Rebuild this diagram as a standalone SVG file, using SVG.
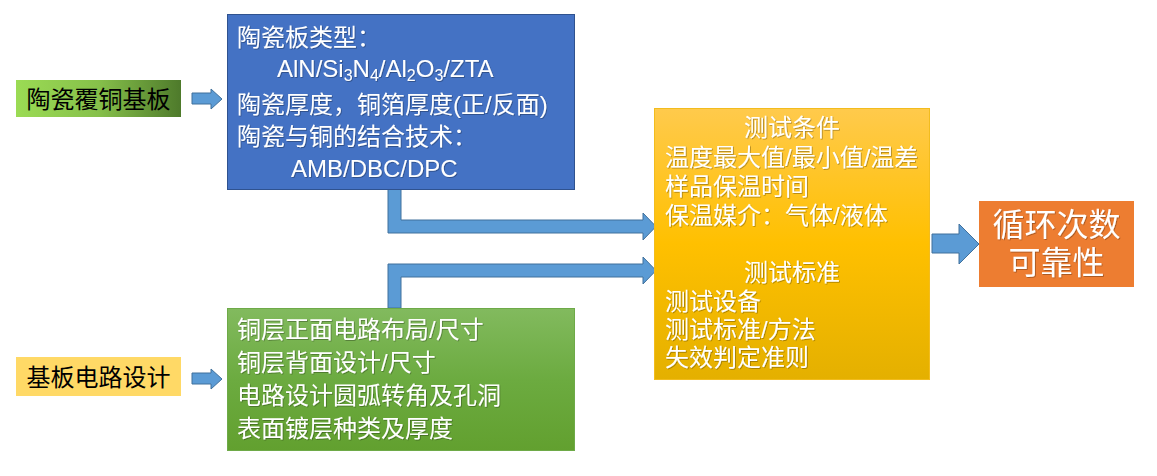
<svg xmlns="http://www.w3.org/2000/svg" width="1157" height="476" viewBox="0 0 1157 476">
<style>
text{font-family:"Liberation Sans","Noto Sans CJK SC",sans-serif;font-size:24px}
.w{fill:#ffffff;filter:url(#sh)}
.k{fill:#000000}
.arr{fill:#5B9BD5;stroke:#41719C;stroke-width:1}
</style>
<defs>
<linearGradient id="gL" x1="0" y1="0" x2="1" y2="0">
<stop offset="0" stop-color="#9BDB54"/><stop offset="0.5" stop-color="#86C04A"/><stop offset="1" stop-color="#4E7A2B"/>
</linearGradient>
<linearGradient id="gG" x1="0" y1="0" x2="0" y2="1">
<stop offset="0" stop-color="#82BA5E"/><stop offset="0.5" stop-color="#6CAB40"/><stop offset="1" stop-color="#62A02F"/>
</linearGradient>
<linearGradient id="gY" x1="0" y1="0" x2="0" y2="1">
<stop offset="0" stop-color="#FFCA4C"/><stop offset="0.5" stop-color="#FFC000"/><stop offset="1" stop-color="#E4B000"/>
</linearGradient>
<filter id="sh" x="-5%" y="-20%" width="110%" height="140%">
<feDropShadow dx="0.8" dy="0.8" stdDeviation="0.5" flood-color="#000" flood-opacity="0.35"/>
</filter>
</defs>
<g id="connectors">
<path class="arr" d="M192,93 L211,93 L211,89 L222,99 L211,109 L211,104 L192,104 Z"/>
<path class="arr" d="M192,373 L211,373 L211,369 L222,379 L211,389 L211,384 L192,384 Z"/>
<path class="arr" d="M388,189 L401,189 L401,220 L643,220 L643,213 L656,226.5 L643,240 L643,233 L388,233 Z"/>
<path class="arr" d="M388,308 L388,264 L643,264 L643,257 L656,270.5 L643,284 L643,277 L401,277 L401,308 Z"/>
<path class="arr" d="M932,234 L959,234 L959,224 L979,244 L959,264 L959,253 L932,253 Z"/>
</g>
<g id="label-ceramic">
<rect x="16" y="80" width="165" height="37" fill="url(#gL)"/>
<text class="k" x="98.5" y="108" text-anchor="middle">陶瓷覆铜基板</text>
</g>
<g id="label-circuit">
<rect x="16" y="357" width="165" height="39" fill="#FFD966"/>
<text class="k" x="98.5" y="386" text-anchor="middle">基板电路设计</text>
</g>
<g id="box-ceramic">
<rect x="227.5" y="14.5" width="347" height="175" fill="#4472C4" stroke="#2F528F" stroke-width="1"/>
<text class="w" x="237" y="46">陶瓷板类型：</text>
<text class="w" x="277" y="77">AlN/Si<tspan font-size="16" dy="4">3</tspan><tspan dy="-4">N</tspan><tspan font-size="16" dy="4">4</tspan><tspan dy="-4">/Al</tspan><tspan font-size="16" dy="4">2</tspan><tspan dy="-4">O</tspan><tspan font-size="16" dy="4">3</tspan><tspan dy="-4">/ZTA</tspan></text>
<text class="w" x="237" y="113">陶瓷厚度，铜箔厚度(正/反面)</text>
<text class="w" x="237" y="145">陶瓷与铜的结合技术：</text>
<text class="w" x="291" y="177">AMB/DBC/DPC</text>
</g>
<g id="box-circuit">
<rect x="227.5" y="308.5" width="347" height="142" fill="url(#gG)" stroke="#6EAA48" stroke-width="1"/>
<text class="w" x="237" y="338">铜层正面电路布局/尺寸</text>
<text class="w" x="237" y="371">铜层背面设计/尺寸</text>
<text class="w" x="237" y="404">电路设计圆弧转角及孔洞</text>
<text class="w" x="237" y="437">表面镀层种类及厚度</text>
</g>
<g id="box-test">
<rect x="654.5" y="108.5" width="275" height="271" fill="url(#gY)" stroke="#F2BC1E" stroke-width="1"/>
<text class="w" x="792" y="136" text-anchor="middle">测试条件</text>
<text class="w" x="665" y="166">温度最大值/最小值/温差</text>
<text class="w" x="665" y="195">样品保温时间</text>
<text class="w" x="665" y="224">保温媒介：气体/液体</text>
<text class="w" x="792" y="281" text-anchor="middle">测试标准</text>
<text class="w" x="665" y="310">测试设备</text>
<text class="w" x="665" y="338">测试标准/方法</text>
<text class="w" x="665" y="366">失效判定准则</text>
</g>
<g id="box-result">
<rect x="979" y="201" width="155" height="86" fill="#ED7D31"/>
<text class="w" x="1056.5" y="236" text-anchor="middle" font-size="32" style="font-size:32px">循环次数</text>
<text class="w" x="1056.5" y="274" text-anchor="middle" style="font-size:32px">可靠性</text>
</g>
</svg>
